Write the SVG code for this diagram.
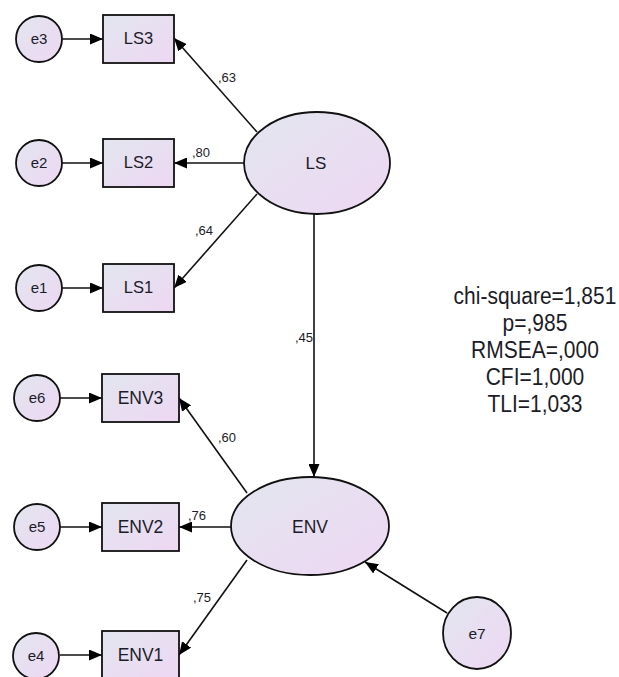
<svg xmlns="http://www.w3.org/2000/svg" width="619" height="677" viewBox="0 0 619 677">
<defs>
<linearGradient id="g" x1="0" y1="0" x2="1" y2="1">
<stop offset="0" stop-color="#e2e6ef"/>
<stop offset="1" stop-color="#eed7f3"/>
</linearGradient>
<marker id="ah" markerUnits="userSpaceOnUse" markerWidth="14" markerHeight="11" refX="13" refY="5.5" orient="auto">
<path d="M0,0 L13,5.5 L0,11 z" fill="#000"/>
</marker>
</defs>
<style>
.n{fill:url(#g);stroke:#111;stroke-width:1.8}
.c line{stroke:#111;stroke-width:1.6;marker-end:url(#ah)}
text{font-family:"Liberation Sans",Arial,sans-serif;fill:#1c1c28}
.lbl{text-anchor:middle}
.w{font-size:13px;fill:#333}
.st{font-size:21px;text-anchor:middle}
</style>
<rect width="619" height="677" fill="#fff"/>
<g class="c" id="connectors">
<line x1="62" y1="39" x2="103" y2="39"/>
<line x1="62" y1="163" x2="103" y2="163"/>
<line x1="62" y1="288" x2="103" y2="288"/>
<line x1="60" y1="398" x2="102" y2="398"/>
<line x1="60" y1="527" x2="102" y2="527"/>
<line x1="60" y1="655" x2="102" y2="655"/>
<line x1="257" y1="132" x2="174" y2="38"/>
<line x1="244" y1="163" x2="174" y2="163"/>
<line x1="257" y1="194" x2="174" y2="288"/>
<line x1="314" y1="214" x2="314" y2="477"/>
<line x1="247" y1="493" x2="179" y2="398"/>
<line x1="231" y1="527" x2="179" y2="527"/>
<line x1="247" y1="560" x2="179" y2="655"/>
<line x1="447" y1="613" x2="365" y2="562"/>
</g>
<g id="labels" class="w">
<text x="218" y="82">,63</text>
<text x="192" y="157">,80</text>
<text x="195" y="235">,64</text>
<text x="295" y="342">,45</text>
<text x="218" y="442">,60</text>
<text x="188" y="520">,76</text>
<text x="193" y="602">,75</text>
</g>
<g id="e3"><circle class="n" cx="39" cy="39" r="23"/><text class="lbl" x="39" y="44" font-size="15">e3</text></g>
<g id="e2"><circle class="n" cx="39" cy="163" r="23"/><text class="lbl" x="39" y="168" font-size="15">e2</text></g>
<g id="e1"><circle class="n" cx="39" cy="288" r="23"/><text class="lbl" x="39" y="293" font-size="15">e1</text></g>
<g id="e6"><circle class="n" cx="37" cy="398" r="23"/><text class="lbl" x="37" y="403" font-size="15">e6</text></g>
<g id="e5"><circle class="n" cx="37" cy="527" r="23"/><text class="lbl" x="37" y="532" font-size="15">e5</text></g>
<g id="e4"><circle class="n" cx="36" cy="656" r="23"/><text class="lbl" x="36" y="661" font-size="15">e4</text></g>
<g id="LS3"><rect class="n" x="103" y="15" width="71" height="48"/><text class="lbl" x="138.5" y="44" font-size="16.5">LS3</text></g>
<g id="LS2"><rect class="n" x="103" y="139" width="71" height="48"/><text class="lbl" x="138.5" y="168" font-size="16.5">LS2</text></g>
<g id="LS1"><rect class="n" x="103" y="264" width="71" height="48"/><text class="lbl" x="138.5" y="293" font-size="16.5">LS1</text></g>
<g id="ENV3"><rect class="n" x="102" y="374" width="77" height="48"/><text class="lbl" x="140.5" y="404" font-size="17.5">ENV3</text></g>
<g id="ENV2"><rect class="n" x="102" y="503" width="77" height="48"/><text class="lbl" x="140.5" y="533" font-size="17.5">ENV2</text></g>
<g id="ENV1"><rect class="n" x="102" y="631" width="77" height="48"/><text class="lbl" x="140.5" y="661" font-size="17.5">ENV1</text></g>
<g id="LS"><ellipse class="n" cx="317" cy="163" rx="73" ry="51"/><text class="lbl" x="316" y="169" font-size="17">LS</text></g>
<g id="ENV"><ellipse class="n" cx="310" cy="526" rx="79" ry="49"/><text class="lbl" x="310" y="533" font-size="17.5">ENV</text></g>
<g id="e7"><ellipse class="n" cx="477" cy="633" rx="34" ry="36"/><text class="lbl" x="477" y="639" font-size="15.5">e7</text></g>
<g id="stats" transform="translate(0,-42) scale(1,1.12)">
<text class="st" x="535" y="309">chi-square=1,851</text>
<text class="st" x="535" y="333">p=,985</text>
<text class="st" x="535" y="357">RMSEA=,000</text>
<text class="st" x="535" y="381">CFI=1,000</text>
<text class="st" x="535" y="405">TLI=1,033</text>
</g>
</svg>
